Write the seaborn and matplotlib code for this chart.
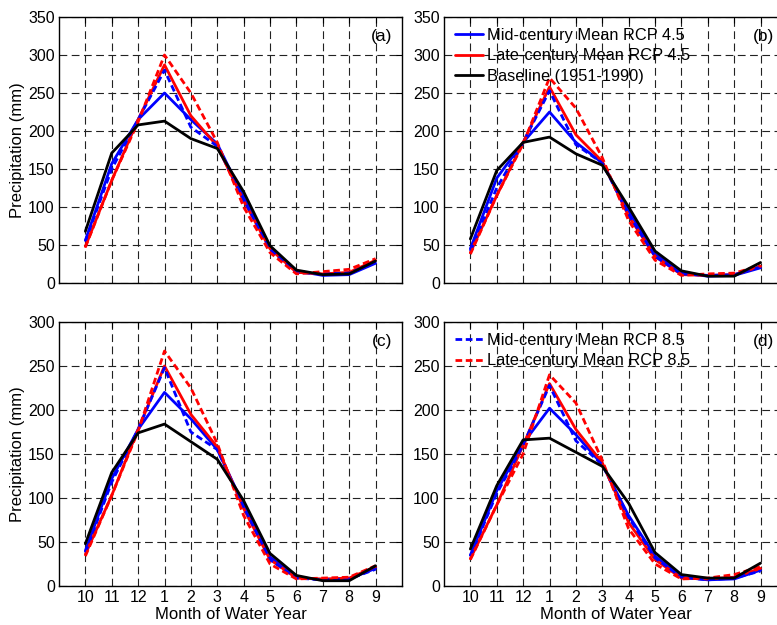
import matplotlib
matplotlib.use("Agg")
import matplotlib.pyplot as plt
import pandas as pd
import seaborn as sns
from matplotlib.lines import Line2D

months = ["10", "11", "12", "1", "2", "3", "4", "5", "6", "7", "8", "9"]

# panel (a)
a_base = [68, 171, 208, 213, 190, 177, 120, 49, 17, 11, 12, 29]
a_mid45 = [56, 157, 215, 250, 215, 183, 113, 47, 16, 10, 11, 26]
a_mid85 = [55, 150, 215, 280, 205, 180, 110, 44, 14, 12, 13, 27]
a_late45 = [48, 135, 215, 287, 220, 180, 108, 45, 14, 12, 14, 30]
a_late85 = [47, 135, 212, 300, 250, 185, 100, 40, 12, 15, 18, 32]

# panel (b)
b_base = [58, 148, 185, 192, 170, 155, 100, 42, 16, 9, 9, 27]
b_mid45 = [45, 138, 185, 225, 185, 158, 95, 38, 13, 9, 10, 20]
b_mid85 = [42, 125, 185, 253, 182, 158, 90, 35, 12, 10, 11, 21]
b_late45 = [40, 115, 185, 258, 195, 160, 88, 35, 11, 10, 11, 22]
b_late85 = [38, 115, 183, 270, 230, 165, 82, 30, 10, 12, 13, 23]

# panel (c)
c_base = [48, 129, 174, 184, 164, 144, 97, 37, 12, 6, 6, 23]
c_mid45 = [40, 122, 178, 220, 190, 155, 92, 33, 10, 7, 8, 20]
c_mid85 = [38, 118, 178, 248, 175, 155, 90, 30, 9, 7, 8, 19]
c_late45 = [36, 103, 178, 250, 195, 158, 88, 30, 9, 8, 9, 22]
c_late85 = [34, 103, 176, 267, 225, 162, 80, 25, 8, 9, 10, 23]

# panel (d)
d_base = [42, 114, 166, 168, 152, 136, 94, 38, 13, 9, 9, 26]
d_mid45 = [35, 108, 162, 202, 172, 138, 80, 34, 10, 7, 8, 18]
d_mid85 = [34, 105, 160, 228, 165, 138, 78, 32, 10, 7, 9, 17]
d_late45 = [31, 92, 160, 230, 178, 140, 72, 30, 9, 8, 10, 20]
d_late85 = [30, 92, 150, 240, 208, 143, 65, 25, 8, 9, 13, 22]

series = ["mid45", "late45", "mid85", "late85", "base"]
palette = {"mid45": "#0000ff", "mid85": "#0000ff", "late45": "#ff0000",
           "late85": "#ff0000", "base": "#000000"}
dash = (2.4, 1.3)
dashes = {"mid45": "", "late45": "", "base": "", "mid85": dash, "late85": dash}

panels = [
    ("(a)", [a_mid45, a_late45, a_mid85, a_late85, a_base], 350),
    ("(b)", [b_mid45, b_late45, b_mid85, b_late85, b_base], 350),
    ("(c)", [c_mid45, c_late45, c_mid85, c_late85, c_base], 300),
    ("(d)", [d_mid45, d_late45, d_mid85, d_late85, d_base], 300),
]

sns.set_style("white")
plt.rcParams["font.family"] = ["Liberation Sans", "DejaVu Sans"]
plt.rcParams["font.size"] = 11
plt.rcParams["text.color"] = "black"
plt.rcParams["axes.labelcolor"] = "black"
plt.rcParams["xtick.color"] = "black"
plt.rcParams["ytick.color"] = "black"

fig = plt.figure(figsize=(7.77, 6.25), dpi=100)
rects = [
    [0.0759, 0.5472, 0.4414, 0.4256],
    [0.5714, 0.5472, 0.4414, 0.4256],
    [0.0759, 0.0624, 0.4414, 0.4224],
    [0.5714, 0.0624, 0.4414, 0.4224],
]
label_x = [0.972, 0.962, 0.972, 0.962]

for i, ((tag, vals, ymax), rect) in enumerate(zip(panels, rects)):
    ax = fig.add_axes(rect)
    rows = []
    for name, v in zip(series, vals):
        for j, val in enumerate(v):
            rows.append({"pos": j, "value": val, "series": name})
    df = pd.DataFrame(rows)
    sns.lineplot(data=df, x="pos", y="value", hue="series", style="series",
                 hue_order=series, style_order=series, palette=palette,
                 dashes=dashes, linewidth=2.0, legend=False, ax=ax, zorder=3)
    ax.set_xlim(-1, 12)
    ax.set_ylim(0, ymax)
    ax.set_xticks(range(12))
    ax.set_yticks(range(0, ymax + 1, 50))
    ax.grid(True, color="#222222", linestyle=(0, (7, 4)), linewidth=0.8)
    ax.tick_params(direction="in", length=4, width=0.8, labelsize=11.5, pad=3,
                   top=True, right=True)
    for s in ax.spines.values():
        s.set_color("black")
        s.set_linewidth(1.0)
    if i >= 2:
        ax.set_xticklabels(months)
        ax.set_xlabel("Month of Water Year", fontsize=12, labelpad=1)
    else:
        ax.set_xticklabels([])
        ax.set_xlabel("")
    if i % 2 == 0:
        ax.set_ylabel("Precipitation (mm)", fontsize=12, labelpad=2)
    else:
        ax.set_ylabel("")
    ax.text(label_x[i], 0.925, tag, transform=ax.transAxes, ha="right",
            va="center", fontsize=12.5)
    if i == 1:
        handles = [Line2D([], [], color=palette[k], lw=2) for k in ["mid45", "late45", "base"]]
        labels = ["Mid-century Mean RCP 4.5", "Late-century Mean RCP 4.5", "Baseline (1951-1990)"]
    elif i == 3:
        handles = [Line2D([], [], color=palette[k], lw=2, dashes=dash) for k in ["mid85", "late85"]]
        labels = ["Mid-century Mean RCP 8.5", "Late-century Mean RCP 8.5"]
    else:
        continue
    ax.legend(handles, labels, loc="upper left", frameon=False, fontsize=11.8,
              handlelength=1.75, handletextpad=0.2, labelspacing=0.35,
              borderaxespad=0.25, bbox_to_anchor=(0.0, 1.0))

fig.savefig("out.png", dpi=100)
